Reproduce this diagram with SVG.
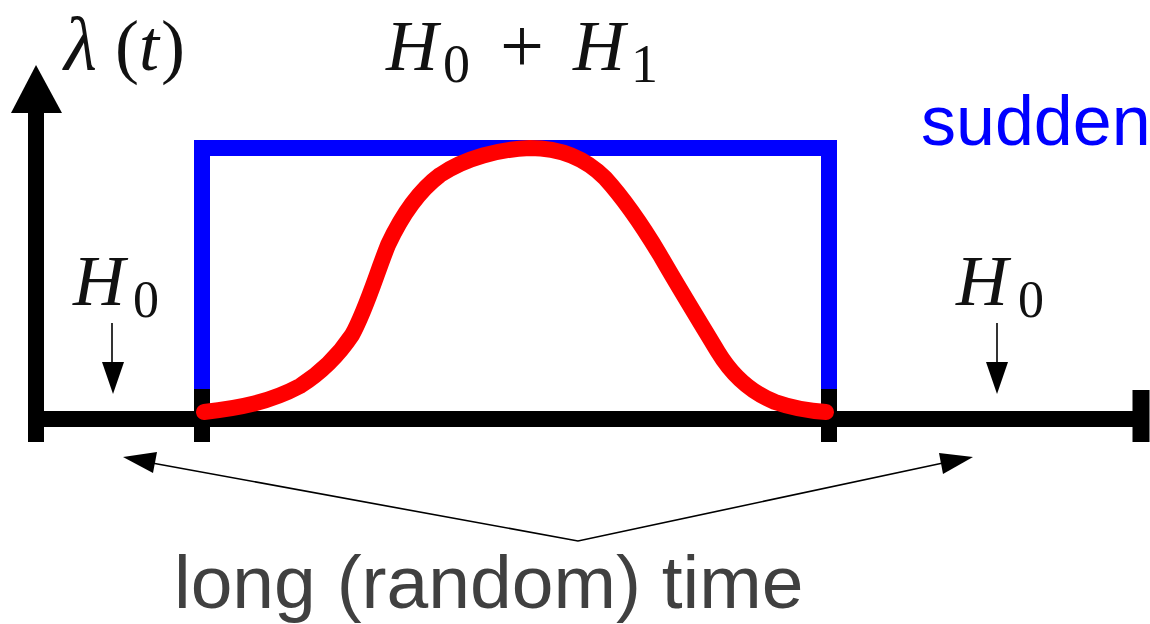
<svg xmlns="http://www.w3.org/2000/svg" width="1150" height="624" viewBox="0 0 1150 624">
  <style>
    .math { font-family: "Liberation Serif", "DejaVu Serif", serif; fill: #111; }
    .it { font-style: italic; }
    .axis { stroke: #000; stroke-width: 16; fill: none; stroke-linecap: butt; }
    .thin { stroke: #000; stroke-width: 1.6; fill: none; }
    .sans { font-family: "Liberation Sans", Arial, sans-serif; }
  </style>
  <rect width="1150" height="624" fill="#fff"/>

  <g id="axes">
    <line class="axis" x1="36" y1="110" x2="36" y2="442"/>
    <polygon points="11,113 62,113 36,65" fill="#000"/>
    <line class="axis" x1="28" y1="419" x2="1141" y2="419"/>
    <line class="axis" x1="1141" y1="390" x2="1141" y2="442" style="stroke-width:17"/>
  </g>

  <g id="blue-step">
    <path d="M202,389 V148 H829 V389" fill="none" stroke="#0000ff" stroke-width="16" stroke-linejoin="miter"/>
  </g>

  <g id="ticks">
    <line class="axis" x1="202" y1="389" x2="202" y2="442"/>
    <line class="axis" x1="829" y1="389" x2="829" y2="442"/>
  </g>

  <g id="red-curve">
    <path d="M204,412 C240,408 270,402 300,386 C322,372 338,356 352,335 C366,310 376,275 388,245 C402,215 420,190 440,175 C465,158 500,149 530,148 C560,148 585,158 605,178 C625,200 645,230 660,255 C680,290 700,322 718,352 C732,375 750,392 775,402 C795,409 810,411 826,412" fill="none" stroke="#ff0000" stroke-width="16" stroke-linecap="round" stroke-linejoin="round"/>
  </g>

  <g id="label-lambda">
    <text class="math" font-size="72" y="70"><tspan class="it" x="64" font-size="76">λ</tspan><tspan x="115">(</tspan><tspan class="it" x="139">t</tspan><tspan x="161">)</tspan></text>
  </g>

  <g id="label-H0H1">
    <text class="math" font-size="72" y="70"><tspan class="it" x="386">H</tspan><tspan x="443" y="82" font-size="54">0</tspan><tspan x="500" y="72" font-size="78">+</tspan><tspan class="it" x="573" y="70">H</tspan><tspan x="631" y="82" font-size="54">1</tspan></text>
  </g>

  <g id="label-sudden">
    <text class="sans" x="921" y="145" font-size="70" fill="#0000ff">sudden</text>
  </g>

  <g id="label-H0-left">
    <text class="math" font-size="72" y="305"><tspan class="it" x="73">H</tspan><tspan x="133" y="317" font-size="52">0</tspan></text>
  </g>
  <g id="label-H0-right">
    <text class="math" font-size="72" y="305"><tspan class="it" x="956">H</tspan><tspan x="1018" y="317" font-size="52">0</tspan></text>
  </g>

  <g id="label-long-time">
    <text class="sans" x="174" y="608" font-size="75" fill="#404040">long (random) time</text>
  </g>

  <g id="connectors">
    <line class="thin" x1="112" y1="323" x2="112" y2="364"/>
    <polygon points="102,362 124,362 113,394" fill="#000"/>
    <line class="thin" x1="997" y1="323" x2="997" y2="364"/>
    <polygon points="986,362 1008,362 997,394" fill="#000"/>
    <polyline class="thin" points="152,463 578,541 943,463"/>
    <polygon points="123,457 157,452 153,473" fill="#000"/>
    <polygon points="973,457 939,453 943,474" fill="#000"/>
  </g>
</svg>
